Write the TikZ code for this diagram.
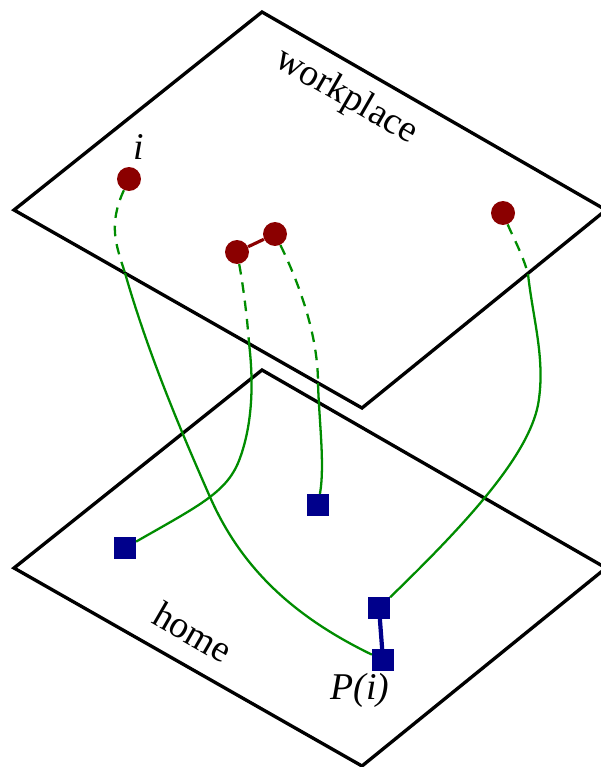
\documentclass[tikz,border=0pt]{standalone}
\usepackage{fontspec}
\setmainfont{Liberation Serif}
\definecolor{workred}{RGB}{139,0,0}
\definecolor{homeblue}{RGB}{0,0,139}
\definecolor{tripgreen}{RGB}{0,140,0}
\begin{document}
\begin{tikzpicture}[x=0.02cm,y=-0.02cm,
  plane/.style={line width=1.9pt,line join=miter},
  workpt/.style={circle,fill=workred,inner sep=0pt,minimum size=0.48cm},
  homept/.style={rectangle,fill=homeblue,inner sep=0pt,minimum size=0.43cm},
  trip/.style={tripgreen,line width=1.3pt},
  hidden/.style={trip,dash pattern=on 6pt off 4.5pt},
  lbl/.style={font=\fontsize{21.5}{25}\selectfont}]
\useasboundingbox (0,0) rectangle (601,767);
\draw[plane] (262,12) -- (606,210) -- (362,408) -- (14,210) -- cycle;
\draw[plane] (262,370) -- (606,568) -- (362,766) -- (14,568) -- cycle;
\node[lbl,rotate=-30] (worklbl) at (346,97) {workplace};
\node[lbl,rotate=-30] (homelbl) at (193,632) {home};
\node[workpt] (wi) at (129,179) {};
\node[workpt] (wa) at (237,252) {};
\node[workpt] (wb) at (275,234) {};
\node[workpt] (wc) at (503,213) {};
\node[homept] (ha) at (125,548) {};
\node[homept] (hb) at (318,505) {};
\node[homept] (hc) at (379,608) {};
\node[homept] (hd) at (383,660) {};
\node[lbl] (ilbl) at (139,147) {\textit{i}};
\node[lbl] (plbl) at (360,690) {\textit{P(i)}};
\draw[workred,line width=1.8pt] (wa) -- (wb);
\draw[homeblue,line width=2.4pt] (hc) -- (hd);
\coordinate (x1) at (125,273);
\coordinate (x2) at (249,343);
\coordinate (x3) at (318,383);
\coordinate (x4) at (528,274);
\draw[hidden] (wi) .. controls (108,225) and (116,245) .. (x1);
\draw[trip] (x1) .. controls (150,360) and (185,440) .. (210,497) .. controls (240,565) and (290,615) .. (hd);
\draw[hidden] (wa) .. controls (243,285) and (247,315) .. (x2);
\draw[trip] (x2) .. controls (254,385) and (252,425) .. (240,458) .. controls (228,492) and (200,505) .. (ha);
\draw[hidden] (wb) .. controls (295,275) and (318,330) .. (x3);
\draw[trip] (x3) .. controls (319,420) and (325,465) .. (hb);
\draw[hidden] (wc) .. controls (512,235) and (523,255) .. (x4);
\draw[trip] (x4) .. controls (533,320) and (546,360) .. (538,405) .. controls (528,455) and (470,520) .. (hc);
\end{tikzpicture}
\end{document}
